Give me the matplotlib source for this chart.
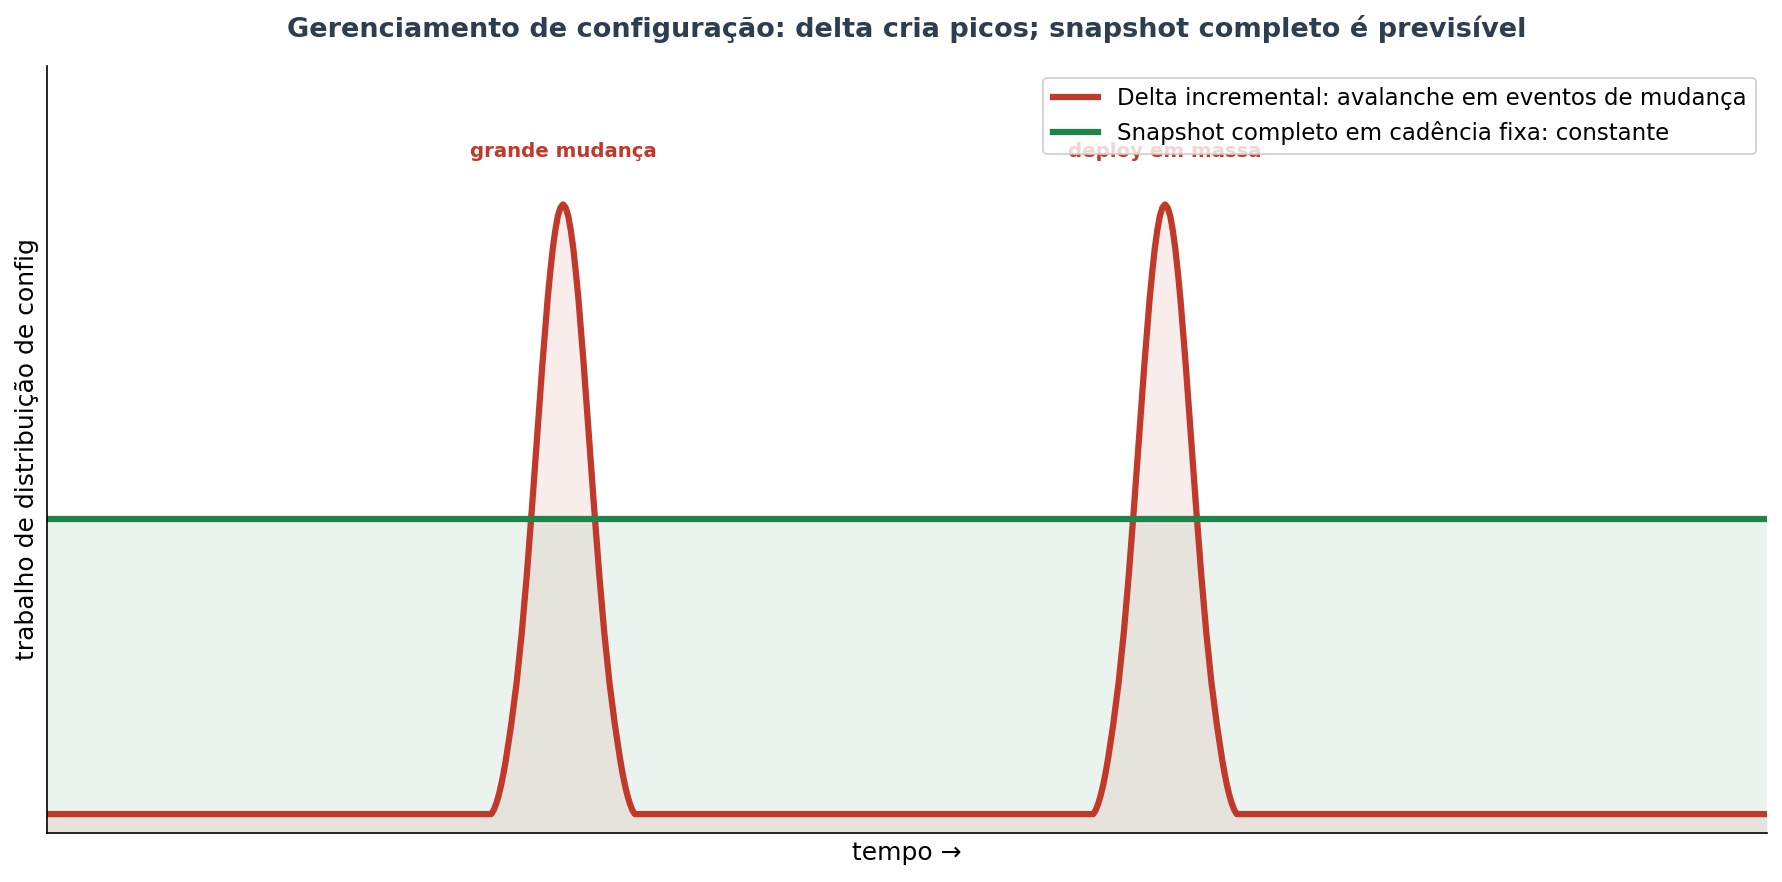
import numpy as np
import matplotlib.pyplot as plt

# time axis limits and the two change events
x_start, x_end = 0, 100
peak_centers = [30.0, 65.0]
peak_labels = ["grande mudança", "deploy em massa"]

# shape of one spike (offset from centre -> height)
peak_offsets = [0.0, 0.15, 0.3, 0.45, 0.6, 0.75, 0.9, 1.2, 1.5, 1.8, 2.1, 2.4, 2.7,
                3.0, 3.18, 3.32, 3.46, 3.6, 3.74, 3.88, 4.02, 4.17]
peak_heights = [10.0, 9.95, 9.82, 9.59, 9.29, 8.91, 8.48, 7.46, 6.33, 5.20, 4.13, 3.18, 2.39,
                1.75, 1.42, 1.17, 0.95, 0.76, 0.60, 0.47, 0.37, 0.30]

delta_base = 0.3
snapshot_level = 5.0

# build delta series
xs = [x_start]
ys = [delta_base]
for c in peak_centers:
    for o, h in zip(peak_offsets[::-1], peak_heights[::-1]):
        xs.append(c - o)
        ys.append(h)
    for o, h in zip(peak_offsets[1:], peak_heights[1:]):
        xs.append(c + o)
        ys.append(h)
xs.append(x_end)
ys.append(delta_base)
xs = np.array(xs)
ys = np.array(ys)

red = "#c0392b"
green = "#1e8449"

fig, ax = plt.subplots(figsize=(11.88, 5.88), dpi=150)
fig.subplots_adjust(left=0.0264, right=0.9916, top=0.925, bottom=0.0556)

ax.plot(xs, ys, color=red, lw=3, label="Delta incremental: avalanche em eventos de mudança")
ax.fill_between(xs, 0, ys, color=red, alpha=0.09, lw=0)
ax.plot([x_start, x_end], [snapshot_level, snapshot_level], color=green, lw=3,
        label="Snapshot completo em cadência fixa: constante")
ax.fill_between([x_start, x_end], 0, snapshot_level, color=green, alpha=0.09, lw=0)

for c, lab in zip(peak_centers, peak_labels):
    ax.text(c, 10.84, lab, ha="center", va="center", color=red,
            fontsize=9.5, fontweight="bold")

ax.set_xlim(x_start, x_end)
ax.set_ylim(0, 12.2)
ax.set_xticks([])
ax.set_yticks([])
ax.spines["top"].set_visible(False)
ax.spines["right"].set_visible(False)
ax.set_xlabel("tempo →", fontsize=12)
ax.set_ylabel("trabalho de distribuição de config", fontsize=12)
ax.set_title("Gerenciamento de configuração: delta cria picos; snapshot completo é previsível",
             fontsize=13, fontweight="bold", color="#2c3e50", pad=14)
ax.legend(loc="upper right", fontsize=11)

fig.savefig("out.png", dpi=150)
